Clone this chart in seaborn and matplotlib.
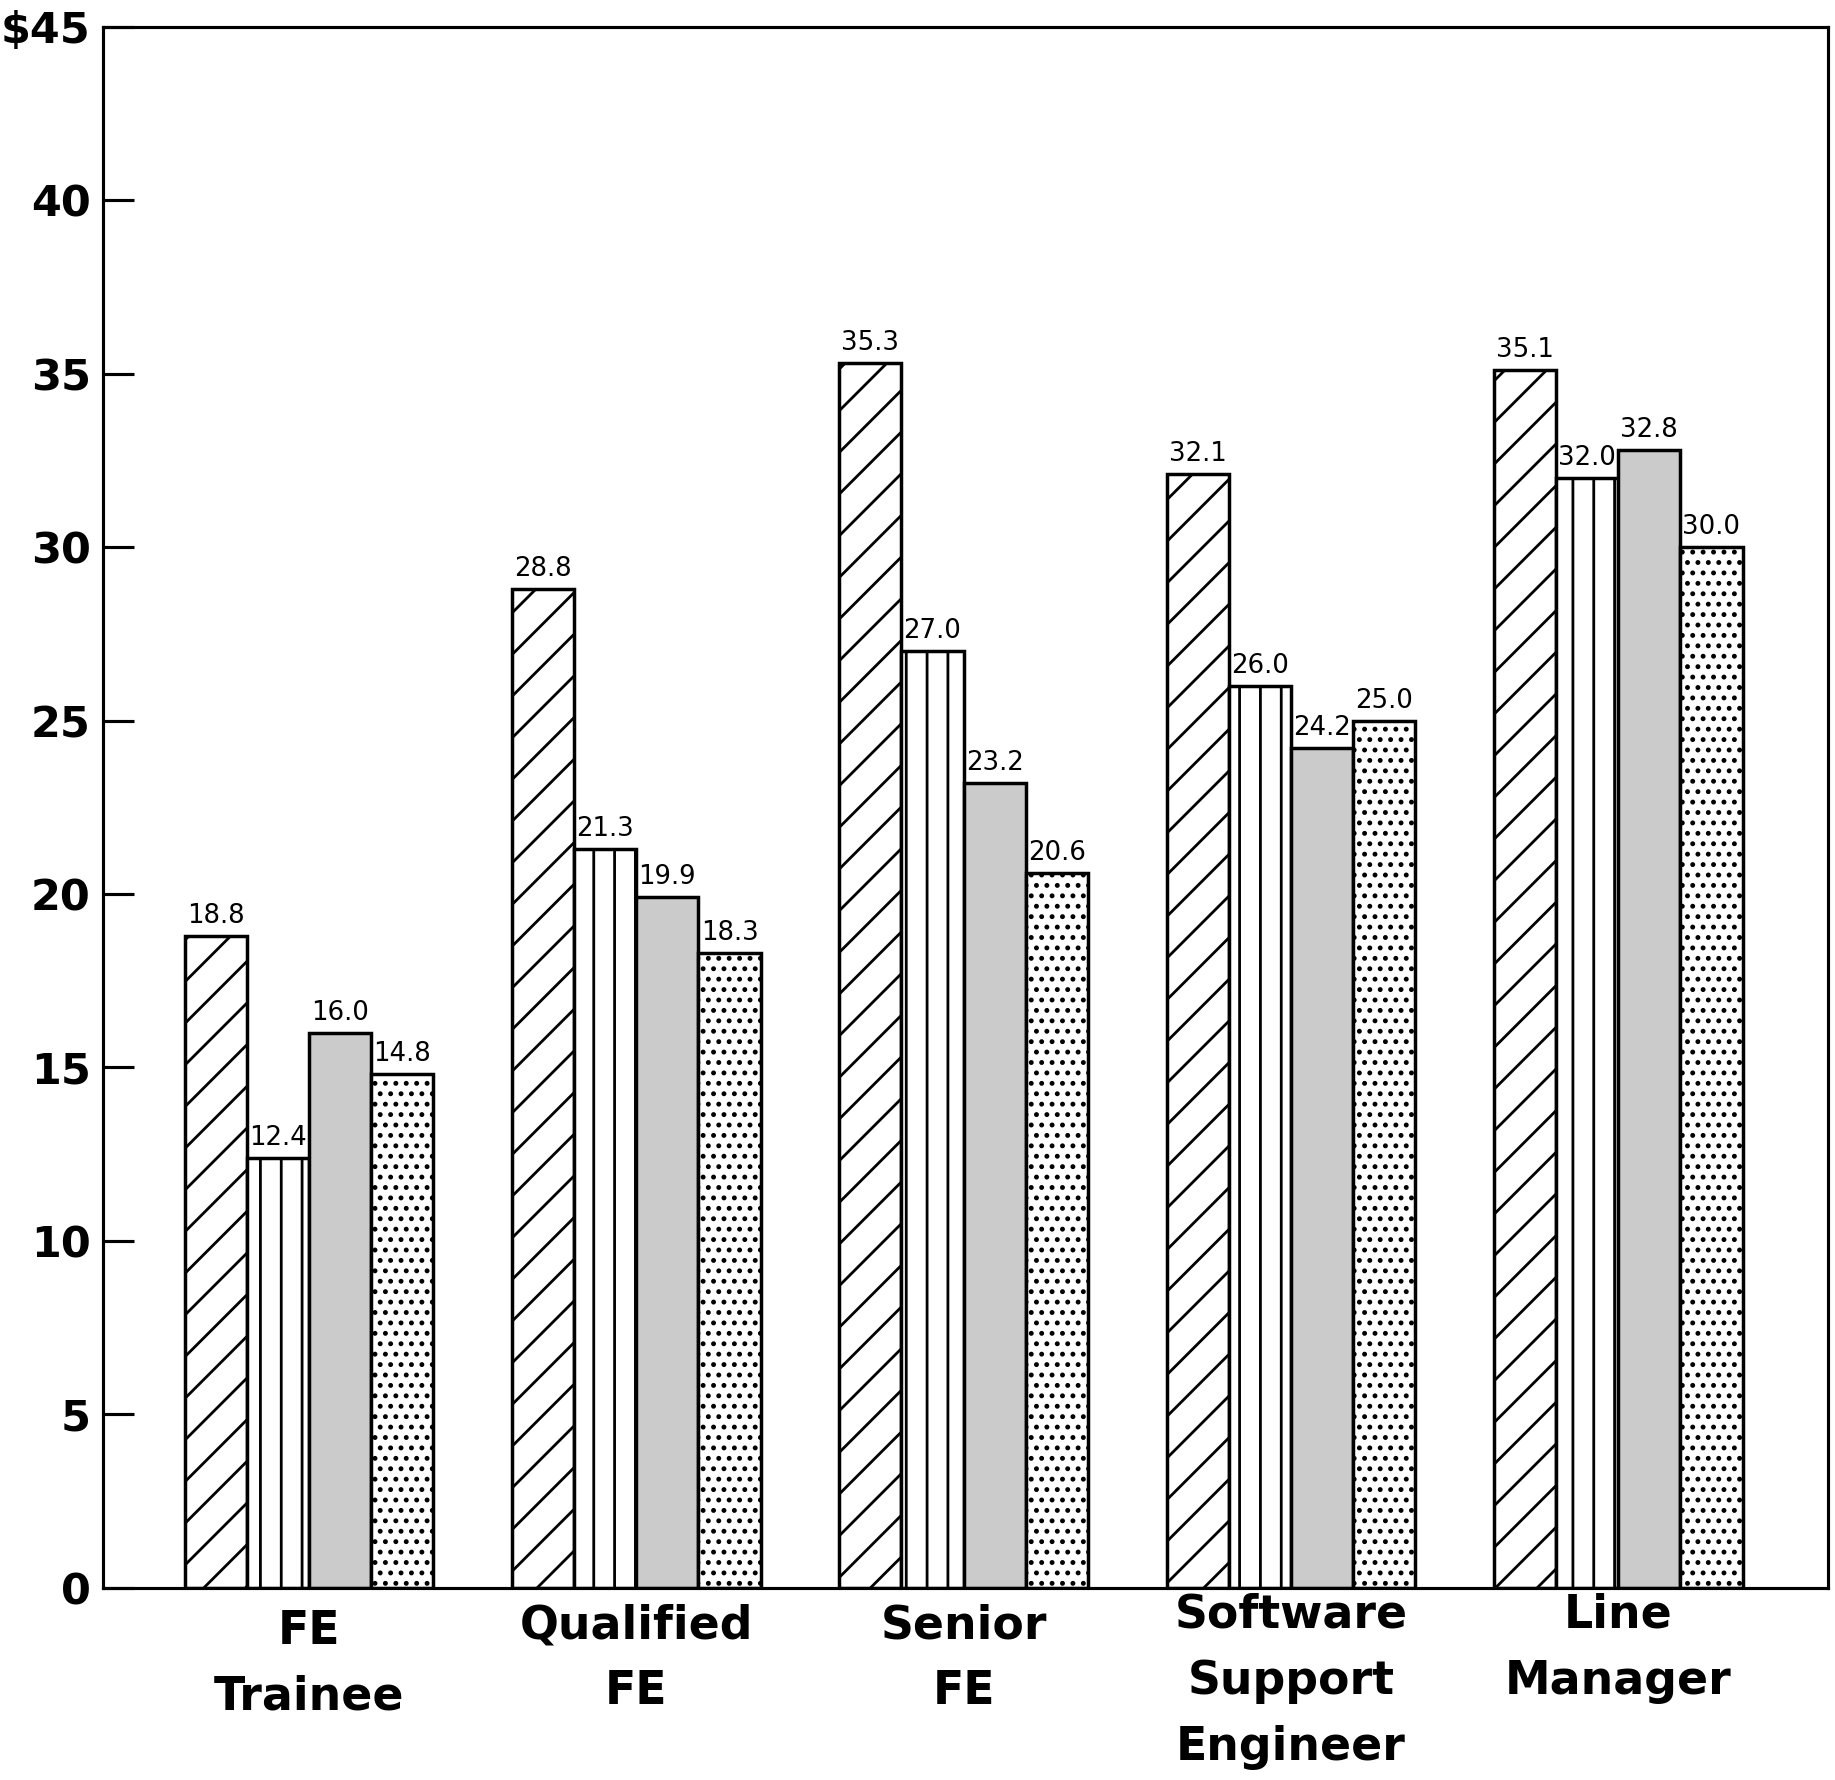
import pandas as pd
import matplotlib
matplotlib.use('Agg')
import matplotlib.pyplot as plt
import matplotlib.transforms as mtransforms
import seaborn as sns

# data (hourly rate, $)
jobs = ['FE\nTrainee', 'Qualified\nFE', 'Senior\nFE',
        'Software\nSupport\nEngineer', 'Line\nManager']
series = ['A', 'B', 'C', 'D']
vals_a = [18.8, 28.8, 35.3, 32.1, 35.1]
vals_b = [12.4, 21.3, 27.0, 26.0, 32.0]
vals_c = [16.0, 19.9, 23.2, 24.2, 32.8]
vals_d = [14.8, 18.3, 20.6, 25.0, 30.0]
yticks = [0, 5, 10, 15, 20, 25, 30, 35, 40, 45]
ylabels = ['0', '5', '10', '15', '20', '25', '30', '35', '40', '$45']

rows = []
for s, vals in zip(series, [vals_a, vals_b, vals_c, vals_d]):
    for j, v in zip(jobs, vals):
        rows.append({'job': j, 'series': s, 'rate': v})
df = pd.DataFrame(rows)

sns.set_style('white')
plt.rcParams['font.family'] = ['DejaVu Sans']
plt.rcParams['hatch.linewidth'] = 0.8
plt.rcParams['text.color'] = 'black'
plt.rcParams['xtick.color'] = 'black'
plt.rcParams['ytick.color'] = 'black'

fig = plt.figure(figsize=(7.34, 7.12), dpi=250)
ax = fig.add_axes([0.056, 0.108, 0.94, 0.877])

sns.barplot(data=df, x='job', y='rate', hue='series', order=jobs,
            hue_order=series, palette=['white', 'white', '#cbcbcb', 'white'],
            edgecolor='black', linewidth=1.0, width=0.76, legend=False, ax=ax)

hatches = ['//', '||', '', '....']
for cont, h in zip(ax.containers, hatches):
    for bar in cont:
        bar.set_hatch(h)
    ax.bar_label(cont, fmt='%.1f', padding=2, fontsize=7.5, color='black')

ax.set_ylim(0, 45)
ax.set_xlim(-0.63, 4.64)
ax.set_yticks(yticks)
ax.set_yticklabels(ylabels, fontsize=12.4, fontweight='bold')
ax.set_xticks(range(len(jobs)))
ax.set_xticklabels(jobs, fontsize=13.2, fontweight='bold', linespacing=1.6)
ax.tick_params(axis='y', direction='in', length=9, width=0.9, pad=3.5, left=True)
ax.tick_params(axis='x', length=0, pad=6)
ax.set_xlabel('')
ax.set_ylabel('')
for sp in ax.spines.values():
    sp.set_visible(True)
    sp.set_linewidth(0.9)
    sp.set_color('black')

# the last two labels sit a bit higher in the original
shift_up = [0, 1.5, 1.5, 4.5, 4.5]
for lab, dy in zip(ax.get_xticklabels(), shift_up):
    lab.set_transform(lab.get_transform() +
                      mtransforms.ScaledTranslation(0, dy / 72, fig.dpi_scale_trans))

fig.savefig('out.png', dpi=250, facecolor='white')
